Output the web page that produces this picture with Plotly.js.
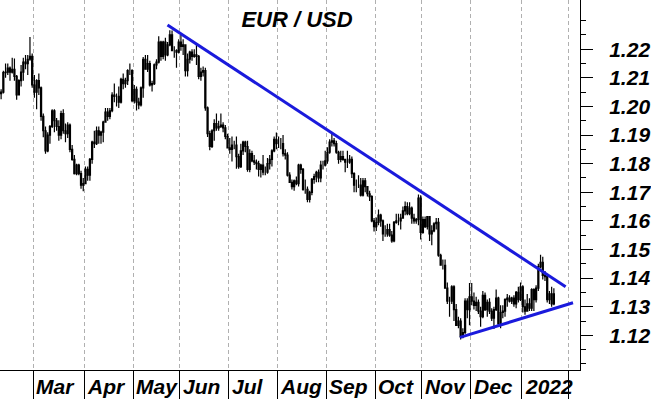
<!DOCTYPE html>
<html><head><meta charset="utf-8">
<script src="https://cdn.plot.ly/plotly-3.0.1.min.js"></script>
<style>html,body{margin:0;padding:0;background:#fff}#chart{width:651px;height:399px}</style>
</head><body><div id="chart"></div>
<script>
// Trading days (weekdays) shown on the chart
const dates = [
/*Feb*/ "2021-02-08","2021-02-09","2021-02-10","2021-02-11","2021-02-12","2021-02-15","2021-02-16","2021-02-17","2021-02-18","2021-02-19","2021-02-22","2021-02-23","2021-02-24","2021-02-25","2021-02-26",
/*Mar*/ "2021-03-01","2021-03-02","2021-03-03","2021-03-04","2021-03-05","2021-03-08","2021-03-09","2021-03-10","2021-03-11","2021-03-12","2021-03-15","2021-03-16","2021-03-17","2021-03-18","2021-03-19","2021-03-22","2021-03-23","2021-03-24","2021-03-25","2021-03-26","2021-03-29","2021-03-30","2021-03-31",
/*Apr*/ "2021-04-01","2021-04-02","2021-04-05","2021-04-06","2021-04-07","2021-04-08","2021-04-09","2021-04-12","2021-04-13","2021-04-14","2021-04-15","2021-04-16","2021-04-19","2021-04-20","2021-04-21","2021-04-22","2021-04-23","2021-04-26","2021-04-27","2021-04-28","2021-04-29","2021-04-30",
/*May*/ "2021-05-03","2021-05-04","2021-05-05","2021-05-06","2021-05-07","2021-05-10","2021-05-11","2021-05-12","2021-05-13","2021-05-14","2021-05-17","2021-05-18","2021-05-19","2021-05-20","2021-05-21","2021-05-24","2021-05-25","2021-05-26","2021-05-27","2021-05-28","2021-05-31",
/*Jun*/ "2021-06-01","2021-06-02","2021-06-03","2021-06-04","2021-06-07","2021-06-08","2021-06-09","2021-06-10","2021-06-11","2021-06-14","2021-06-15","2021-06-16","2021-06-17","2021-06-18","2021-06-21","2021-06-22","2021-06-23","2021-06-24","2021-06-25","2021-06-28","2021-06-29","2021-06-30",
/*Jul*/ "2021-07-01","2021-07-02","2021-07-05","2021-07-06","2021-07-07","2021-07-08","2021-07-09","2021-07-12","2021-07-13","2021-07-14","2021-07-15","2021-07-16","2021-07-19","2021-07-20","2021-07-21","2021-07-22","2021-07-23","2021-07-26","2021-07-27","2021-07-28","2021-07-29","2021-07-30",
/*Aug*/ "2021-08-02","2021-08-03","2021-08-04","2021-08-05","2021-08-06","2021-08-09","2021-08-10","2021-08-11","2021-08-12","2021-08-13","2021-08-16","2021-08-17","2021-08-18","2021-08-19","2021-08-20","2021-08-23","2021-08-24","2021-08-25","2021-08-26","2021-08-27","2021-08-30","2021-08-31",
/*Sep*/ "2021-09-01","2021-09-02","2021-09-03","2021-09-06","2021-09-07","2021-09-08","2021-09-09","2021-09-10","2021-09-13","2021-09-14","2021-09-15","2021-09-16","2021-09-17","2021-09-20","2021-09-21","2021-09-22","2021-09-23","2021-09-24","2021-09-27","2021-09-28","2021-09-29","2021-09-30",
/*Oct*/ "2021-10-01","2021-10-04","2021-10-05","2021-10-06","2021-10-07","2021-10-08","2021-10-11","2021-10-12","2021-10-13","2021-10-14","2021-10-15","2021-10-18","2021-10-19","2021-10-20","2021-10-21","2021-10-22","2021-10-25","2021-10-26","2021-10-27","2021-10-28","2021-10-29",
/*Nov*/ "2021-11-01","2021-11-02","2021-11-03","2021-11-04","2021-11-05","2021-11-08","2021-11-09","2021-11-10","2021-11-11","2021-11-12","2021-11-15","2021-11-16","2021-11-17","2021-11-18","2021-11-19","2021-11-22","2021-11-23","2021-11-24","2021-11-25","2021-11-26","2021-11-29","2021-11-30",
/*Dec*/ "2021-12-01","2021-12-02","2021-12-03","2021-12-06","2021-12-07","2021-12-08","2021-12-09","2021-12-10","2021-12-13","2021-12-14","2021-12-15","2021-12-16","2021-12-17","2021-12-20","2021-12-21","2021-12-22","2021-12-23","2021-12-24","2021-12-27","2021-12-28","2021-12-29","2021-12-30","2021-12-31",
/*Jan*/ "2022-01-03","2022-01-04","2022-01-05","2022-01-06","2022-01-07","2022-01-10","2022-01-11","2022-01-12","2022-01-13","2022-01-14","2022-01-17","2022-01-18","2022-01-19","2022-01-20","2022-01-21"
];

const opens = [
/*Feb*/ 1.2045,1.2050,1.2118,1.2120,1.2134,1.2120,1.2130,1.2105,1.2040,1.2090,1.2120,1.2155,1.2150,1.2165,1.2175,
/*Mar*/ 1.2075,1.2050,1.2090,1.2065,1.1965,1.1915,1.1845,1.1900,1.1930,1.1985,1.1950,1.1930,1.1900,1.1975,1.1915,1.1905,1.1935,1.1850,1.1815,1.1765,1.1795,1.1765,1.1725,
/*Apr*/ 1.1730,1.1780,1.1760,1.1815,1.1875,1.1870,1.1915,1.1900,1.1910,1.1945,1.1980,1.1965,1.1985,1.2040,1.2035,1.2035,1.2015,1.2095,1.2080,1.2090,1.2125,1.2125,
/*May*/ 1.2020,1.2060,1.2015,1.2005,1.2065,1.2165,1.2130,1.2150,1.2075,1.2080,1.2145,1.2155,1.2225,1.2175,1.2225,1.2180,1.2215,1.2250,1.2195,1.2195,1.2190,
/*Jun*/ 1.2225,1.2210,1.2215,1.2125,1.2165,1.2190,1.2175,1.2180,1.2175,1.2105,1.2120,1.2125,1.1995,1.1905,1.1860,1.1915,1.1940,1.1925,1.1930,1.1935,1.1925,1.1895,
/*Jul*/ 1.1855,1.1850,1.1865,1.1865,1.1825,1.1790,1.1845,1.1875,1.1860,1.1780,1.1835,1.1810,1.1805,1.1800,1.1780,1.1795,1.1770,1.1770,1.1800,1.1815,1.1845,1.1885,
/*Aug*/ 1.1870,1.1870,1.1870,1.1835,1.1830,1.1760,1.1735,1.1720,1.1740,1.1730,1.1795,1.1780,1.1710,1.1710,1.1675,1.1700,1.1745,1.1755,1.1770,1.1750,1.1795,1.1795,
/*Sep*/ 1.1810,1.1840,1.1875,1.1880,1.1870,1.1840,1.1815,1.1825,1.1815,1.1805,1.1805,1.1815,1.1765,1.1725,1.1725,1.1725,1.1690,1.1740,1.1720,1.1695,1.1685,1.1600,
/*Oct*/ 1.1580,1.1595,1.1620,1.1600,1.1555,1.1555,1.1570,1.1550,1.1530,1.1595,1.1600,1.1600,1.1610,1.1635,1.1650,1.1625,1.1645,1.1610,1.1600,1.1605,1.1680,
/*Nov*/ 1.1560,1.1605,1.1580,1.1615,1.1555,1.1565,1.1590,1.1595,1.1480,1.1445,1.1445,1.1365,1.1320,1.1320,1.1370,1.1290,1.1235,1.1250,1.1195,1.1210,1.1320,1.1290,
/*Dec*/ 1.1335,1.1320,1.1305,1.1315,1.1285,1.1265,1.1340,1.1290,1.1315,1.1285,1.1260,1.1290,1.1330,1.1240,1.1280,1.1285,1.1325,1.1330,1.1320,1.1330,1.1310,1.1350,1.1325,
/*Jan*/ 1.1370,1.1300,1.1285,1.1310,1.1295,1.1360,1.1325,1.1365,1.1440,1.1455,1.1410,1.1405,1.1325,1.1345,1.1310
];

const highs = [
/*Feb*/ 1.2060,1.2125,1.2150,1.2150,1.2140,1.2170,1.2168,1.2110,1.2095,1.2145,1.2170,1.2180,1.2180,1.2243,1.2185,
/*Mar*/ 1.2110,1.2095,1.2115,1.2070,1.1975,1.1930,1.1910,1.1935,1.1990,1.1990,1.1960,1.1952,1.1985,1.1990,1.1940,1.1945,1.1940,1.1865,1.1830,1.1800,1.1800,1.1775,1.1750,
/*Apr*/ 1.1790,1.1790,1.1820,1.1880,1.1915,1.1930,1.1930,1.1915,1.1950,1.1995,1.1995,1.1995,1.2050,1.2080,1.2045,1.2070,1.2100,1.2115,1.2100,1.2130,1.2150,1.2130,
/*May*/ 1.2075,1.2070,1.2030,1.2070,1.2173,1.2180,1.2180,1.2160,1.2090,1.2150,1.2165,1.2245,1.2230,1.2230,1.2240,1.2225,1.2266,1.2265,1.2210,1.2200,1.2235,
/*Jun*/ 1.2254,1.2235,1.2215,1.2185,1.2195,1.2200,1.2200,1.2218,1.2180,1.2135,1.2140,1.2135,1.2000,1.1915,1.1920,1.1955,1.1975,1.1950,1.1975,1.1945,1.1935,1.1905,
/*Jul*/ 1.1890,1.1895,1.1880,1.1895,1.1835,1.1870,1.1880,1.1880,1.1880,1.1850,1.1845,1.1830,1.1815,1.1810,1.1800,1.1830,1.1790,1.1820,1.1830,1.1850,1.1895,1.1909,
/*Aug*/ 1.1895,1.1890,1.1900,1.1850,1.1840,1.1770,1.1745,1.1745,1.1755,1.1800,1.1800,1.1785,1.1745,1.1720,1.1705,1.1750,1.1765,1.1775,1.1780,1.1810,1.1810,1.1845,
/*Sep*/ 1.1857,1.1885,1.1909,1.1890,1.1880,1.1845,1.1845,1.1845,1.1815,1.1845,1.1830,1.1825,1.1770,1.1745,1.1760,1.1750,1.1750,1.1750,1.1720,1.1705,1.1690,1.1610,
/*Oct*/ 1.1612,1.1640,1.1625,1.1605,1.1585,1.1590,1.1590,1.1565,1.1600,1.1625,1.1625,1.1625,1.1650,1.1668,1.1665,1.1665,1.1650,1.1625,1.1610,1.1692,1.1690,
/*Nov*/ 1.1615,1.1615,1.1615,1.1616,1.1585,1.1595,1.1610,1.1610,1.1485,1.1465,1.1465,1.1385,1.1335,1.1375,1.1375,1.1310,1.1265,1.1260,1.1225,1.1330,1.1330,1.1383,
/*Dec*/ 1.1383,1.1350,1.1335,1.1325,1.1300,1.1355,1.1350,1.1325,1.1330,1.1295,1.1300,1.1360,1.1335,1.1305,1.1305,1.1330,1.1345,1.1340,1.1335,1.1340,1.1355,1.1370,1.1385,
/*Jan*/ 1.1375,1.1325,1.1345,1.1330,1.1365,1.1365,1.1375,1.1450,1.1482,1.1475,1.1425,1.1410,1.1355,1.1370,1.1365
];

const lows = [
/*Feb*/ 1.2025,1.2045,1.2100,1.2110,1.2090,1.2115,1.2090,1.2023,1.2040,1.2070,1.2090,1.2130,1.2110,1.2160,1.2065,
/*Mar*/ 1.2030,1.1990,1.2040,1.1950,1.1892,1.1835,1.1840,1.1870,1.1925,1.1910,1.1915,1.1880,1.1885,1.1905,1.1875,1.1890,1.1840,1.1810,1.1762,1.1760,1.1760,1.1712,1.1704,
/*Apr*/ 1.1730,1.1740,1.1740,1.1800,1.1855,1.1865,1.1870,1.1870,1.1875,1.1945,1.1950,1.1955,1.1980,1.2015,1.2000,1.1995,1.2010,1.2060,1.2065,1.2075,1.2110,1.2015,
/*May*/ 1.2010,1.1986,1.1990,1.2000,1.2030,1.2130,1.2120,1.2070,1.2052,1.2075,1.2130,1.2150,1.2160,1.2165,1.2160,1.2175,1.2210,1.2195,1.2170,1.2135,1.2185,
/*Jun*/ 1.2195,1.2180,1.2105,1.2105,1.2150,1.2160,1.2170,1.2145,1.2095,1.2090,1.2105,1.1985,1.1893,1.1847,1.1855,1.1880,1.1915,1.1915,1.1925,1.1910,1.1885,1.1855,
/*Jul*/ 1.1835,1.1808,1.1850,1.1782,1.1782,1.1785,1.1830,1.1840,1.1772,1.1770,1.1805,1.1795,1.1780,1.1755,1.1752,1.1760,1.1760,1.1765,1.1780,1.1790,1.1840,1.1850,
/*Aug*/ 1.1855,1.1850,1.1825,1.1815,1.1755,1.1735,1.1710,1.1705,1.1725,1.1720,1.1765,1.1705,1.1695,1.1665,1.1664,1.1690,1.1730,1.1735,1.1735,1.1735,1.1780,1.1790,
/*Sep*/ 1.1800,1.1835,1.1860,1.1860,1.1835,1.1800,1.1805,1.1810,1.1770,1.1785,1.1800,1.1750,1.1700,1.1700,1.1715,1.1685,1.1685,1.1700,1.1685,1.1670,1.1595,1.1563,
/*Oct*/ 1.1565,1.1585,1.1580,1.1530,1.1545,1.1545,1.1545,1.1524,1.1525,1.1590,1.1585,1.1570,1.1610,1.1620,1.1620,1.1620,1.1590,1.1590,1.1590,1.1585,1.1535,
/*Nov*/ 1.1555,1.1575,1.1570,1.1530,1.1515,1.1560,1.1570,1.1475,1.1445,1.1430,1.1365,1.1310,1.1265,1.1310,1.1250,1.1235,1.1225,1.1186,1.1190,1.1205,1.1260,1.1235,
/*Dec*/ 1.1305,1.1290,1.1285,1.1275,1.1230,1.1260,1.1285,1.1265,1.1275,1.1250,1.1222,1.1285,1.1235,1.1225,1.1260,1.1265,1.1300,1.1315,1.1310,1.1300,1.1295,1.1315,1.1320,
/*Jan*/ 1.1280,1.1272,1.1285,1.1285,1.1285,1.1285,1.1315,1.1355,1.1435,1.1395,1.1390,1.1315,1.1310,1.1300,1.1305
];

const closes = [
/*Feb*/ 1.2050,1.2118,1.2120,1.2134,1.2120,1.2130,1.2105,1.2040,1.2090,1.2120,1.2155,1.2150,1.2165,1.2175,1.2075,
/*Mar*/ 1.2050,1.2090,1.2065,1.1965,1.1915,1.1845,1.1900,1.1930,1.1985,1.1950,1.1930,1.1900,1.1975,1.1915,1.1905,1.1935,1.1850,1.1815,1.1765,1.1795,1.1765,1.1725,1.1730,
/*Apr*/ 1.1780,1.1760,1.1815,1.1875,1.1870,1.1915,1.1900,1.1910,1.1945,1.1980,1.1965,1.1985,1.2040,1.2035,1.2035,1.2015,1.2095,1.2080,1.2090,1.2125,1.2125,1.2020,
/*May*/ 1.2060,1.2015,1.2005,1.2065,1.2165,1.2130,1.2150,1.2075,1.2080,1.2145,1.2155,1.2225,1.2175,1.2225,1.2180,1.2215,1.2250,1.2195,1.2195,1.2190,1.2225,
/*Jun*/ 1.2210,1.2215,1.2125,1.2165,1.2190,1.2175,1.2180,1.2175,1.2105,1.2120,1.2125,1.1995,1.1905,1.1860,1.1915,1.1940,1.1925,1.1930,1.1935,1.1925,1.1895,1.1855,
/*Jul*/ 1.1850,1.1865,1.1865,1.1825,1.1790,1.1845,1.1875,1.1860,1.1780,1.1835,1.1810,1.1805,1.1800,1.1780,1.1795,1.1770,1.1770,1.1800,1.1815,1.1845,1.1885,1.1870,
/*Aug*/ 1.1870,1.1870,1.1835,1.1830,1.1760,1.1735,1.1720,1.1740,1.1730,1.1795,1.1780,1.1710,1.1710,1.1675,1.1700,1.1745,1.1755,1.1770,1.1750,1.1795,1.1795,1.1810,
/*Sep*/ 1.1840,1.1875,1.1880,1.1870,1.1840,1.1815,1.1825,1.1815,1.1805,1.1805,1.1815,1.1765,1.1725,1.1725,1.1725,1.1690,1.1740,1.1720,1.1695,1.1685,1.1600,1.1580,
/*Oct*/ 1.1595,1.1620,1.1600,1.1555,1.1555,1.1570,1.1550,1.1530,1.1595,1.1600,1.1600,1.1610,1.1635,1.1650,1.1625,1.1645,1.1610,1.1600,1.1605,1.1680,1.1560,
/*Nov*/ 1.1605,1.1580,1.1615,1.1555,1.1565,1.1590,1.1595,1.1480,1.1445,1.1445,1.1365,1.1320,1.1320,1.1370,1.1290,1.1235,1.1250,1.1195,1.1210,1.1320,1.1290,1.1335,
/*Dec*/ 1.1320,1.1305,1.1315,1.1285,1.1265,1.1340,1.1290,1.1315,1.1285,1.1260,1.1290,1.1330,1.1240,1.1280,1.1285,1.1325,1.1330,1.1320,1.1330,1.1310,1.1350,1.1325,1.1370,
/*Jan*/ 1.1300,1.1285,1.1310,1.1295,1.1360,1.1325,1.1365,1.1440,1.1455,1.1410,1.1405,1.1325,1.1345,1.1310,1.1345
];

// Trend lines
const upperTrendDates = ["2021-05-24 11:00", "2022-01-28 19:00"];
const upperTrendValues = [1.2285, 1.1370];
const lowerTrendDates = ["2021-11-24 05:00", "2022-02-03 03:00"];
const lowerTrendValues = [1.1193, 1.1314];

// Axes
const yTickValues = [1.12, 1.13, 1.14, 1.15, 1.16, 1.17, 1.18, 1.19, 1.20, 1.21, 1.22];
const yTickLabels = ["1.12", "1.13", "1.14", "1.15", "1.16", "1.17", "1.18", "1.19", "1.20", "1.21", "1.22"];
const yMinorTicks = [1.11, 1.115, 1.125, 1.135, 1.145, 1.155, 1.165, 1.175, 1.185, 1.195, 1.205, 1.215, 1.225, 1.23];
const monthStarts = ["2021-03-01","2021-04-01","2021-05-03","2021-06-01","2021-07-01","2021-08-02","2021-09-01","2021-10-01","2021-11-01","2021-12-01","2022-01-03","2022-02-01"];
const monthLabels = ["Mar","Apr","May","Jun","Jul","Aug","Sep","Oct","Nov","Dec","2022"];

const FONT = '"Liberation Sans Narrow", "Arial Narrow", "Liberation Sans", Arial, sans-serif';
const BLUE = '#1a1adc';

const traces = [
  {
    type: 'candlestick',
    x: dates.map(d => d + ' 12:00'),
    open: opens, high: highs, low: lows, close: closes,
    increasing: {line: {color: '#000', width: 1.2}, fillcolor: '#ffffff'},
    decreasing: {line: {color: '#000', width: 1.2}, fillcolor: '#000000'},
    whiskerwidth: 0,
    hoverinfo: 'skip'
  },
  {type: 'scatter', mode: 'lines', x: upperTrendDates, y: upperTrendValues, line: {color: BLUE, width: 3}, hoverinfo: 'skip'},
  {type: 'scatter', mode: 'lines', x: lowerTrendDates, y: lowerTrendValues, line: {color: BLUE, width: 3}, hoverinfo: 'skip'}
];

const annotations = monthLabels.map((m, i) => ({
  text: m, x: monthStarts[i], xref: 'x', y: -0.044, yref: 'paper',
  xanchor: 'left', yanchor: 'middle', xshift: 1, showarrow: false,
  font: {family: FONT, size: 21, weight: 'bold', style: 'italic', color: '#000'}
}));

const layout = {
  width: 651, height: 399,
  margin: {l: 0, r: 71, t: 0, b: 29, pad: 0},
  paper_bgcolor: '#ffffff', plot_bgcolor: '#ffffff',
  showlegend: false,
  title: {
    text: 'EUR / USD', x: 297 / 651, xanchor: 'center', y: 1 - 19 / 399, yanchor: 'middle',
    font: {family: FONT, size: 22, weight: 'bold', style: 'italic', color: '#000'}
  },
  xaxis: {
    type: 'date',
    range: ['2021-02-08', '2022-02-08 06:30'],
    rangebreaks: [{bounds: ['sat', 'mon']}],
    rangeslider: {visible: false},
    tickmode: 'array', tickvals: monthStarts, showticklabels: false,
    ticks: 'outside', ticklen: 29, tickwidth: 1, tickcolor: '#000',
    showgrid: true, gridcolor: '#b0b0b0', gridwidth: 1, griddash: '4px,3px',
    showline: true, linecolor: '#000', linewidth: 1, zeroline: false, fixedrange: true
  },
  yaxis: {
    side: 'right',
    range: [1.1079, 1.2372],
    tickmode: 'array', tickvals: yTickValues, ticktext: yTickLabels,
    ticks: 'outside', ticklen: 12, tickwidth: 1, tickcolor: '#000',
    minor: {tickmode: 'array', tickvals: yMinorTicks, ticks: 'outside', ticklen: 5, tickwidth: 1, tickcolor: '#000', showgrid: false},
    showgrid: false, zeroline: false,
    showline: true, linecolor: '#000', linewidth: 1,
    ticklabelstandoff: 12,
    tickfont: {family: FONT, size: 21, weight: 'bold', style: 'italic', color: '#000'},
    fixedrange: true
  },
  annotations: annotations
};

Plotly.newPlot('chart', traces, layout, {displayModeBar: false, staticPlot: true});
</script>
</body></html>
